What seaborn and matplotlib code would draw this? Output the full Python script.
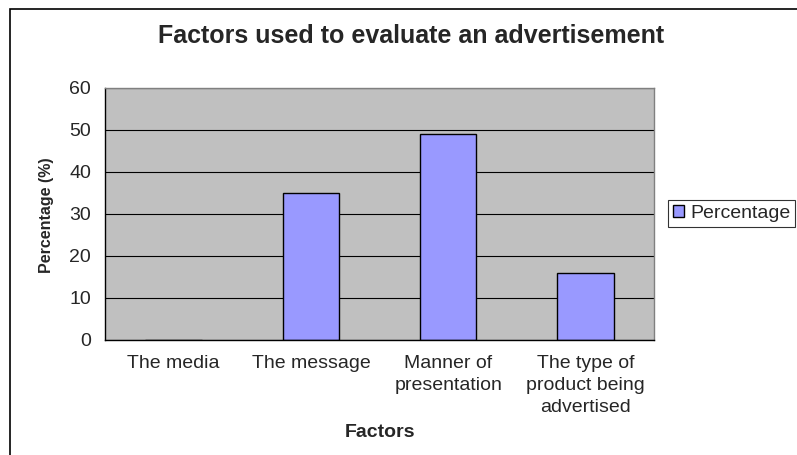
import matplotlib
matplotlib.use("Agg")
import matplotlib.pyplot as plt
import seaborn as sns
import pandas as pd
from matplotlib.patches import Rectangle
from matplotlib import font_manager

factors = ["The media", "The message", "Manner of\npresentation",
           "The type of\nproduct being\nadvertised"]
percentage = [0, 35, 49, 16]
series_name = "Percentage"

df = pd.DataFrame({"Factors": factors, "Percentage": percentage})

sns.set_style("white")
plt.rcParams['font.family'] = ['Liberation Sans', 'DejaVu Sans']

# narrow face for the y axis title if it is there
names = {f.name for f in font_manager.fontManager.ttflist}
ylab_family = ['Liberation Sans Narrow', 'Liberation Sans'] if 'Liberation Sans Narrow' in names else ['Liberation Sans']
ylab_size = 14 if 'Liberation Sans Narrow' in names else 11.5

W, H = 797, 455
fig = plt.figure(figsize=(W / 100, H / 100), dpi=100)
ax = fig.add_axes([105 / W, 1 - 340 / H, (654 - 105) / W, (340 - 88) / H])

sns.barplot(data=df, x="Factors", y="Percentage", color="#9999FF",
            edgecolor="black", linewidth=1, width=0.41, saturation=1, ax=ax,
            label=series_name)

ax.set_facecolor("#C0C0C0")
ax.set_ylim(0, 60)
ax.set_xlim(-0.5, 3.5)
ax.set_yticks(range(0, 61, 10))
ax.yaxis.grid(True, color="black", linewidth=0.8)
ax.set_axisbelow(True)

ax.set_xticks(range(4))
ax.set_xticklabels(factors, fontsize=14, linespacing=1.38)
ax.set_xticks([-0.5, 0.5, 1.5, 2.5, 3.5], minor=True)
ax.tick_params(axis="x", which="major", length=0, pad=11)
ax.tick_params(axis="x", which="minor", length=5, width=0.8, color="black", direction="out")
ax.tick_params(axis="y", length=6, width=0.8, color="black", direction="out", labelsize=14, pad=4)

for s in ["top", "right"]:
    ax.spines[s].set_color("#808080")
    ax.spines[s].set_linewidth(1)
for s in ["left", "bottom"]:
    ax.spines[s].set_color("black")
    ax.spines[s].set_linewidth(1)

ax.set_xlabel("Factors", fontsize=14, fontweight="bold", labelpad=6)
ax.set_ylabel("")
ax.yaxis.set_label_coords(0, 0)
fig.text(46 / W, 1 - 215 / H, "Percentage (%)", rotation=90, ha="center",
         va="center", fontsize=ylab_size, fontweight="bold", family=ylab_family)
if ax.legend_:
    ax.legend_.remove()

fig.text(411 / W, 1 - 36 / H, "Factors used to evaluate an advertisement",
         ha="center", va="center", fontsize=18, fontweight="bold")

handles, labels = ax.get_legend_handles_labels()
leg = fig.legend(handles[:1], [series_name], loc="upper left",
                 bbox_to_anchor=(668 / W, 1 - 200 / H), fontsize=14,
                 frameon=True, fancybox=False, edgecolor="black",
                 handlelength=0.55, handleheight=0.55, handletextpad=0.35,
                 borderpad=0.25, borderaxespad=0)
leg.get_frame().set_linewidth(0.8)

fig.patches.append(Rectangle((10 / W, -0.1), 1.2, 1 - 9 / H + 0.1,
                             transform=fig.transFigure, fill=False,
                             edgecolor="black", linewidth=1.2))

fig.savefig("out.png", dpi=100)
